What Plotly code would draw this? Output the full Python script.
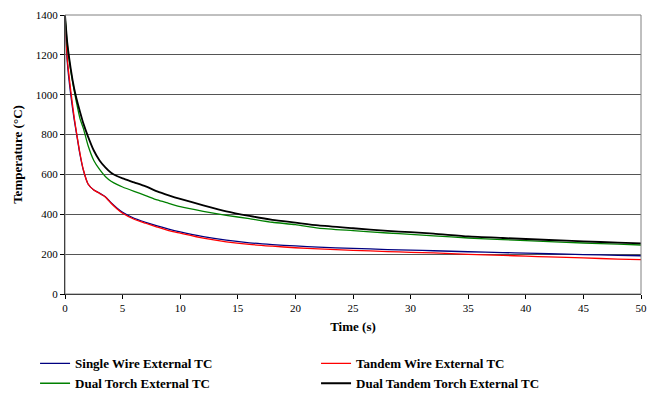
import plotly.graph_objects as go

time_s = [0, 0.2, 0.5, 0.8, 1.0, 1.3, 1.6, 2.0, 2.5, 3.0, 3.5, 4.0, 4.5, 5.0,
          6, 7, 8, 9, 10, 12, 14, 16, 18, 20, 22, 25, 28, 30, 32, 35, 38, 40,
          42, 45, 48, 50]

single_wire = [1400, 1165, 1000, 875, 805, 700, 620, 552, 522, 506, 488, 458,
               432, 410, 380, 360, 342, 326, 312, 288, 270, 257, 248, 241, 235,
               229, 223, 220, 217, 212, 208, 205, 202, 198, 194, 192]

tandem_wire = [1400, 1180, 1020, 885, 810, 705, 622, 552, 522, 505, 487, 455,
               428, 405, 375, 355, 336, 318, 305, 280, 262, 249, 240, 232, 226,
               219, 213, 209, 206, 199, 194, 190, 186, 181, 175, 172]

dual_torch = [1400, 1250, 1120, 1020, 960, 880, 830, 745, 670, 625, 590, 566,
              550, 537, 515, 494, 472, 455, 438, 415, 395, 378, 360, 348, 331,
              318, 306, 299, 292, 281, 273, 268, 263, 256, 250, 246]

dual_tandem = [1400, 1260, 1130, 1030, 980, 915, 855, 790, 720, 670, 635, 608,
               592, 580, 560, 540, 515, 495, 477, 445, 415, 392, 372, 358, 344,
               330, 317, 310, 303, 289, 281, 276, 271, 264, 258, 254]

x_ticks = [0, 5, 10, 15, 20, 25, 30, 35, 40, 45, 50]
y_ticks = [0, 200, 400, 600, 800, 1000, 1200, 1400]

series = [
    ("Single Wire External TC", single_wire, "#000080", 1.3),
    ("Tandem Wire External TC", tandem_wire, "#FF0000", 1.3),
    ("Dual Torch External TC", dual_torch, "#008000", 1.3),
    ("Dual Tandem Torch External TC", dual_tandem, "#000000", 1.8),
]

FONT = "Liberation Serif"

fig = go.Figure()
for name, vals, color, w in series:
    fig.add_trace(go.Scatter(x=time_s, y=vals, mode="lines", name=name,
                             line=dict(color=color, width=w, shape="spline", smoothing=0.6)))

fig.update_layout(
    width=652, height=396,
    margin=dict(l=65, r=11, t=15, b=102, autoexpand=False),
    paper_bgcolor="white", plot_bgcolor="white",
    font=dict(family=FONT, color="black", size=11),
    showlegend=True,
    legend=dict(orientation="h", x=-0.052, xanchor="left", y=-0.195, yanchor="top",
                font=dict(family=FONT, size=13, color="black", weight="bold"),
                entrywidth=236, entrywidthmode="pixels", itemwidth=30,
                bgcolor="rgba(0,0,0,0)", tracegroupgap=0),
    shapes=[dict(type="rect", xref="paper", yref="paper", x0=0, x1=1, y0=0, y1=1,
                 line=dict(color="#808080", width=1), layer="above")],
)

fig.update_xaxes(
    range=[0, 50], tickvals=x_ticks, ticktext=[str(v) for v in x_ticks],
    showgrid=False, zeroline=False,
    showline=True, linecolor="black", linewidth=1,
    ticks="outside", ticklen=4, tickcolor="black", tickwidth=1,
    tickfont=dict(family=FONT, size=11, color="black"),
    ticklabeloverflow="allow",
    title=dict(text="Time (s)", font=dict(family=FONT, size=13, color="black", weight="bold"),
               standoff=8),
    automargin=False,
)
fig.update_yaxes(
    range=[0, 1400], tickvals=y_ticks, ticktext=[str(v) for v in y_ticks],
    showgrid=True, gridcolor="#555555", gridwidth=1, zeroline=False,
    showline=True, linecolor="black", linewidth=1,
    ticks="outside", ticklen=4, tickcolor="black", tickwidth=1,
    tickfont=dict(family=FONT, size=11, color="black"),
    title=dict(text="Temperature (°C)", font=dict(family=FONT, size=13, color="black", weight="bold"),
               standoff=10),
    automargin=False,
)

fig.write_html(
    "out.html",
    config={"displayModeBar": False},
    post_script="document.body.style.margin='0';document.body.style.overflow='hidden';",
)
